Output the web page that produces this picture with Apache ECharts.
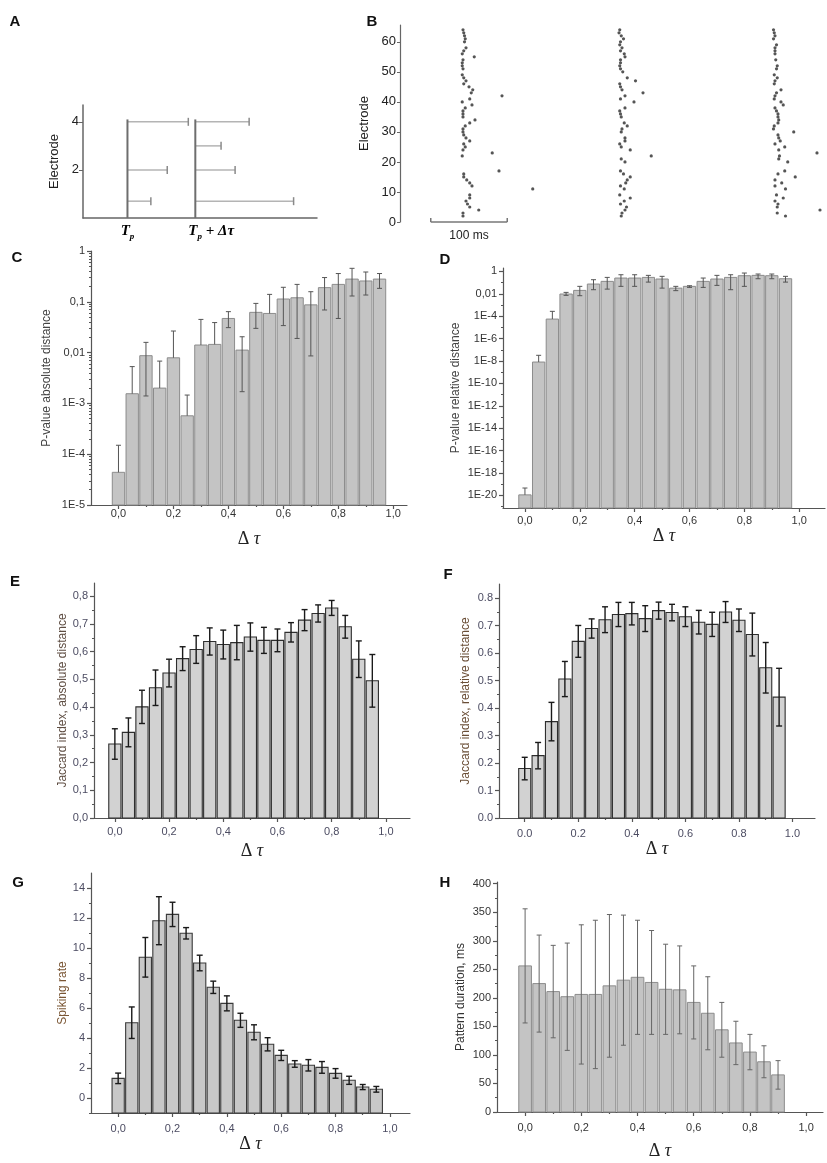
<!DOCTYPE html>
<html lang="en">
<head>
<meta charset="UTF-8">
<title>Patterns vs delta tau</title>
<script src="https://cdn.jsdelivr.net/npm/echarts@6/dist/echarts.min.js"></script>
<style>
  html, body { margin: 0; padding: 0; background: #fff; }
  #main { width: 827px; height: 1163px; }
</style>
</head>
<body>
<div id="main"></div>
<script type="text/javascript">
// ---- panel A: scheme ----
var aTp = 19, aTpShift = 48;
var aLeftRows = [4, 2, 0.7], aLeftEnds = [45, 36, 29];
var aRightRows = [4, 3, 2, 0.7], aRightEnds = [71, 59, 65, 90];
var aTickLabels = ['{t|T}{s|p}', '{t|T}{s|p}{t| + Δτ}'];

// ---- panel B: raster, [time ms, electrode] ----
var burst1 = [[84,64],[85,63],[86,62],[87,61],[86,60],[88,58],[85,57],[83,56],[99,55],[84,54],[83,53],[83,52],[84,51],[83,49],[85,48],[88,47],[85,46],[92,45],[97,44],[95,43],[136,42],[93,41],[83,40],[96,39],[87,38],[84,37],[84,36],[84,35],[100,34],[93,33],[87,32],[84,31],[84,30],[85,29],[88,28],[93,27],[85,26],[87,25],[84,24],[123,23],[83,22],[132,17],[85,16],[85,15],[89,14],[93,13],[96,12],[177,11],[93,9],[93,8],[88,7],[90,6],[93,5],[105,4],[84,3],[84,2]];
var burst2 = [[293,64],[292,63],[295,62],[298,61],[294,60],[293,59],[296,58],[294,57],[299,56],[300,55],[294,54],[294,53],[293,52],[294,51],[297,50],[303,48],[314,47],[293,46],[294,45],[296,44],[324,43],[300,42],[294,41],[312,40],[300,38],[293,37],[294,36],[295,35],[299,33],[303,32],[296,31],[295,30],[300,28],[300,27],[293,26],[295,25],[307,24],[335,22],[295,21],[300,20],[294,17],[298,16],[307,15],[303,14],[301,13],[294,12],[299,11],[293,9],[307,8],[299,7],[294,6],[302,5],[300,4],[296,3],[295,2]];
var burst3 = [[498,64],[499,63],[500,62],[498,61],[502,59],[500,58],[500,57],[500,56],[501,54],[503,52],[502,51],[499,49],[503,48],[500,47],[499,46],[508,44],[502,43],[500,42],[499,41],[508,40],[511,39],[500,38],[502,37],[504,36],[504,35],[505,34],[504,33],[499,32],[498,31],[525,30],[504,29],[505,28],[507,27],[500,26],[513,25],[505,24],[556,23],[506,22],[505,21],[517,20],[513,17],[504,16],[527,15],[500,14],[509,13],[500,12],[514,11],[502,9],[511,8],[500,7],[504,6],[503,5],[560,4],[503,3],[514,2]];
var scaleBar = [41, 143];
var electrodeTicks = [0, 10, 20, 30, 40, 50, 60];

// ---- bar panels ----
var dtau = [0.00,0.05,0.10,0.15,0.20,0.25,0.30,0.35,0.40,0.45,0.50,0.55,0.60,0.65,0.70,0.75,0.80,0.85,0.90,0.95];
var dtauH = dtau.slice(0, 19);

var pAbsMean = [4.4e-5,1.55e-3,8.7e-3,2.0e-3,7.9e-3,5.7e-4,0.0141,0.0145,0.047,0.0112,0.062,0.059,0.1135,0.12,0.087,0.19,0.22,0.28,0.257,0.28];
var pAbsHigh = [1.5e-4,5.3e-3,0.0159,6.8e-3,0.0266,1.46e-3,0.045,0.039,0.064,0.0205,0.093,0.14,0.193,0.22,0.158,0.30,0.36,0.456,0.386,0.36];
var pAbsLow  = [null,null,1.4e-3,null,null,null,null,null,0.031,1.7e-3,0.030,null,0.034,0.019,8.6e-3,0.069,0.047,0.13,0.136,0.184];

var pRelMean = [1.1e-20,8e-9,5.5e-5,9.5e-3,0.02,0.074,0.128,0.254,0.254,0.29,0.207,0.032,0.046,0.128,0.207,0.29,0.41,0.44,0.41,0.22];
var pRelHigh = [4.5e-20,3.2e-8,2.7e-4,0.0133,0.046,0.18,0.29,0.5,0.5,0.44,0.36,0.046,0.052,0.254,0.44,0.5,0.71,0.58,0.58,0.36];
var pRelLow  = [null,null,null,7.2e-3,6.7e-3,0.023,0.026,0.046,0.046,0.11,0.032,0.019,0.037,0.037,0.056,0.023,0.046,0.22,0.22,0.11];

var jacAbsMean = [0.267,0.309,0.401,0.470,0.523,0.575,0.608,0.637,0.626,0.633,0.653,0.641,0.641,0.670,0.714,0.738,0.758,0.690,0.573,0.495];
var jacAbsSd   = [0.055,0.052,0.060,0.064,0.050,0.043,0.050,0.049,0.052,0.062,0.051,0.047,0.041,0.035,0.038,0.031,0.027,0.041,0.066,0.095];

var jacRelMean = [0.180,0.227,0.351,0.506,0.643,0.690,0.722,0.741,0.744,0.726,0.755,0.748,0.733,0.713,0.705,0.750,0.720,0.668,0.547,0.440];
var jacRelSd   = [0.041,0.048,0.070,0.064,0.058,0.035,0.047,0.044,0.041,0.047,0.031,0.030,0.036,0.043,0.044,0.038,0.041,0.078,0.092,0.105];

var rateMean = [1.31,5.02,9.38,11.82,12.24,10.98,9.00,7.38,6.31,5.18,4.38,3.58,2.84,2.27,2.18,2.04,1.64,1.18,0.73,0.58];
var rateSd   = [0.35,1.05,1.32,1.60,0.81,0.38,0.52,0.41,0.50,0.47,0.50,0.44,0.34,0.22,0.38,0.39,0.32,0.27,0.17,0.19];

var durMean = [256,225,211,202,206,206,221,231,236,227,215,214,192,173,144,121,105,88,65];
var durSd   = [100,85,81,94,122,130,125,114,100,91,79,77,64,64,48,38,31,28,25];

// tick values
var xMajor = [0, 0.2, 0.4, 0.6, 0.8, 1.0];
var xMinor = [0.1, 0.3, 0.5, 0.7, 0.9];
var cMajor = [1e-5, 1e-4, 1e-3, 1e-2, 1e-1, 1];
var dMajor = [1e-20, 1e-18, 1e-16, 1e-14, 1e-12, 1e-10, 1e-8, 1e-6, 1e-4, 1e-2, 1];
var dMinor = [1e-21, 1e-19, 1e-17, 1e-15, 1e-13, 1e-11, 1e-9, 1e-7, 1e-5, 1e-3, 1e-1];
var jacMajor = [0, 0.1, 0.2, 0.3, 0.4, 0.5, 0.6, 0.7, 0.8];
var jacMinor = [0.05, 0.15, 0.25, 0.35, 0.45, 0.55, 0.65, 0.75];
var rateMajor = [0, 2, 4, 6, 8, 10, 12, 14];
var rateMinor = [-1, 1, 3, 5, 7, 9, 11, 13];
var durMajor = [0, 50, 100, 150, 200, 250, 300, 350, 400];
var durMinor = [25, 75, 125, 175, 225, 275, 325, 375];

var cMinor = [];
for (var k = -5; k < 0; k++) {
    for (var m = 2; m <= 9; m++) cMinor.push(m * Math.pow(10, k));
}

var sans = "'Liberation Sans', Arial, sans-serif";
var serif = "'Liberation Serif', 'Times New Roman', serif";

function commaFmt(v) { return v.toFixed(1).replace('.', ','); }
function dotFmt(v) { return v.toFixed(1); }
function intFmt(v) { return String(Math.round(v)); }
function logFmt(v) {
    var e = Math.round(Math.log(v) / Math.LN10);
    if (e === 0) return '1';
    if (e >= -2) return v.toFixed(-e).replace('.', ',');
    return '1E' + e;
}

function zipSd(xs, mean, sd) {
    return xs.map(function (x, i) { return [x, mean[i], mean[i] - sd[i], mean[i] + sd[i]]; });
}
function zipLoHi(xs, mean, lo, hi) {
    return xs.map(function (x, i) { return [x, mean[i], lo[i] == null ? '-' : lo[i], hi[i]]; });
}

var grids = [], xAxes = [], yAxes = [], series = [];

var tauRich = {
    d: { fontFamily: serif, fontSize: 18, color: '#222' },
    t: { fontFamily: serif, fontSize: 18, fontStyle: 'italic', color: '#222' }
};

function barRenderer(p) {
    var half = 0.0225, cap = p.cap;
    return function (params, api) {
        var x = api.value(0), v = api.value(1), lo = api.value(2), hi = api.value(3);
        var tl = api.coord([x - half, v]);
        var br = api.coord([x + half, p.yMin]);
        var top = api.coord([x, v]);
        var pHi = api.coord([x, hi]);
        var hasLo = lo != null && !isNaN(lo);
        var pLo = hasLo ? api.coord([x, lo]) : top;
        var es = { stroke: p.errColor, lineWidth: p.errWidth };
        var kids = [
            { type: 'rect', shape: { x: tl[0], y: tl[1], width: br[0] - tl[0], height: br[1] - tl[1] },
              style: { fill: p.fill, stroke: p.stroke, lineWidth: p.strokeWidth } },
            { type: 'line', shape: { x1: pHi[0], y1: pHi[1], x2: pLo[0], y2: pLo[1] }, style: es },
            { type: 'line', shape: { x1: pHi[0] - cap, y1: pHi[1], x2: pHi[0] + cap, y2: pHi[1] }, style: es }
        ];
        if (hasLo) {
            kids.push({ type: 'line', shape: { x1: pLo[0] - cap, y1: pLo[1], x2: pLo[0] + cap, y2: pLo[1] }, style: es });
        }
        return { type: 'group', children: kids };
    };
}

function addPanel(p) {
    var gi = grids.length;
    grids.push({ left: p.box[0], top: p.box[1], width: p.box[2], height: p.box[3] });
    var line = { color: p.axisColor, width: 1.2 };
    var xi = xAxes.length, yi = yAxes.length;
    xAxes.push({
        gridIndex: gi, type: 'value', position: 'bottom', min: p.xMin, max: p.xMax,
        axisLine: { onZero: false, lineStyle: line },
        axisTick: { customValues: xMajor, length: 4, lineStyle: line },
        axisLabel: { customValues: xMajor, margin: p.xMargin, formatter: p.xFmt,
                     fontFamily: sans, fontSize: 11, color: p.labelColor },
        splitLine: { show: false },
        name: '{d|Δ }{t|τ}', nameLocation: 'middle', nameGap: p.xGap,
        nameTextStyle: { rich: tauRich }
    });
    // minor ticks only
    xAxes.push({
        gridIndex: gi, type: 'value', position: 'bottom', min: p.xMin, max: p.xMax,
        axisLine: { show: false, onZero: false },
        axisTick: { customValues: xMinor, length: 2, lineStyle: line },
        axisLabel: { show: false }, splitLine: { show: false }
    });
    yAxes.push({
        gridIndex: gi, type: p.yType, position: 'left', min: p.yMin, max: p.yMax,
        axisLine: { show: true, onZero: false, lineStyle: line },
        axisTick: { show: true, customValues: p.yMajor, length: 4, lineStyle: line },
        axisLabel: { customValues: p.yMajor, margin: 6, formatter: p.yFmt,
                     fontFamily: sans, fontSize: 11, color: p.labelColor },
        splitLine: { show: false },
        name: p.yName, nameLocation: 'middle', nameGap: p.yGap,
        nameTextStyle: { fontFamily: sans, fontSize: 12, color: p.nameColor }
    });
    yAxes.push({
        gridIndex: gi, type: p.yType, position: 'left', min: p.yMin, max: p.yMax,
        axisLine: { show: false, onZero: false },
        axisTick: { show: true, customValues: p.yMinor, length: 2, lineStyle: line },
        axisLabel: { show: false }, splitLine: { show: false }
    });
    series.push({
        type: 'custom', xAxisIndex: xi, yAxisIndex: yi,
        data: p.data, renderItem: barRenderer(p), animation: false, silent: true
    });
}

// ---- panel A ----
grids.push({ left: 83, top: 105, width: 234, height: 113 });
xAxes.push({
    gridIndex: 0, type: 'value', min: 0, max: 100,
    axisLine: { onZero: false, lineStyle: { color: '#666', width: 1.5 } },
    axisTick: { show: false }, axisLabel: { show: false }, splitLine: { show: false }
});
yAxes.push({
    gridIndex: 0, type: 'value', min: 0, max: 4.7,
    axisLine: { show: true, onZero: false, lineStyle: { color: '#666', width: 1.5 } },
    axisTick: { customValues: [2, 4], length: 4, lineStyle: { color: '#666' } },
    axisLabel: { customValues: [2, 4], margin: 4, fontFamily: sans, fontSize: 13, color: '#222' },
    splitLine: { show: false },
    name: 'Electrode', nameLocation: 'middle', nameGap: 22,
    nameTextStyle: { fontFamily: sans, fontSize: 13, color: '#222' }
});
var aRich = {
    t: { fontFamily: serif, fontStyle: 'italic', fontWeight: 'bold', fontSize: 15, color: '#222', lineHeight: 20 },
    s: { fontFamily: serif, fontStyle: 'italic', fontWeight: 'bold', fontSize: 9, color: '#222', lineHeight: 9, verticalAlign: 'bottom' }
};
function aRowRenderer(params, api) {
    var s = api.coord([api.value(0), api.value(2)]);
    var e = api.coord([api.value(1), api.value(2)]);
    return { type: 'group', children: [
        { type: 'line', shape: { x1: s[0], y1: s[1], x2: e[0], y2: e[1] }, style: { stroke: '#b4b4b4', lineWidth: 1.5 } },
        { type: 'line', shape: { x1: e[0], y1: e[1] - 4, x2: e[0], y2: e[1] + 4 }, style: { stroke: '#8a8a8a', lineWidth: 1.5 } }
    ] };
}
series.push({
    type: 'custom', xAxisIndex: 0, yAxisIndex: 0, animation: false, silent: true,
    data: aLeftRows.map(function (r, i) { return [aTp, aLeftEnds[i], r]; })
        .concat(aRightRows.map(function (r, i) { return [aTpShift, aRightEnds[i], r]; })),
    renderItem: aRowRenderer
});
series.push({
    type: 'custom', xAxisIndex: 0, yAxisIndex: 0, animation: false, silent: true,
    data: [[aTp], [aTpShift]],
    renderItem: function (params, api) {
        var x = api.value(0), i = params.dataIndex;
        var p0 = api.coord([x, 0]), p1 = api.coord([x, 4.1]);
        return { type: 'group', children: [
            { type: 'line', shape: { x1: p0[0], y1: p0[1], x2: p1[0], y2: p1[1] }, style: { stroke: '#6e6e6e', lineWidth: 2 } },
            { type: 'text', style: { text: aTickLabels[i], rich: aRich, x: p0[0] + (i ? -7 : 0), y: p0[1] + 3,
                                     align: i ? 'left' : 'center', verticalAlign: 'top' } }
        ] };
    }
});

// ---- panel B ----
grids.push({ left: 400, top: 25, width: 420, height: 197 });
xAxes.push({ gridIndex: 1, type: 'value', min: 0, max: 560, show: false });
yAxes.push({
    gridIndex: 1, type: 'value', min: 0, max: 65.6,
    axisLine: { show: true, onZero: false, lineStyle: { color: '#666', width: 1.2 } },
    axisTick: { customValues: electrodeTicks, length: 3, lineStyle: { color: '#666' } },
    axisLabel: { customValues: electrodeTicks, margin: 4, fontFamily: sans, fontSize: 13, color: '#222' },
    splitLine: { show: false },
    name: 'Electrode', nameLocation: 'middle', nameGap: 25,
    nameTextStyle: { fontFamily: sans, fontSize: 13, color: '#222' }
});
[burst1, burst2, burst3].forEach(function (b) {
    series.push({
        type: 'scatter', xAxisIndex: 1, yAxisIndex: 1, data: b, symbolSize: 3.2,
        itemStyle: { color: '#2a2a2a' }, animation: false, silent: true
    });
});
series.push({
    type: 'custom', xAxisIndex: 1, yAxisIndex: 1, animation: false, silent: true,
    data: [scaleBar],
    renderItem: function (params, api) {
        var a = api.coord([api.value(0), 0]), b = api.coord([api.value(1), 0]);
        var st = { stroke: '#777', lineWidth: 1.5 };
        return { type: 'group', children: [
            { type: 'line', shape: { x1: a[0], y1: a[1], x2: b[0], y2: b[1] }, style: st },
            { type: 'line', shape: { x1: a[0], y1: a[1], x2: a[0], y2: a[1] - 4 }, style: st },
            { type: 'line', shape: { x1: b[0], y1: b[1], x2: b[0], y2: b[1] - 4 }, style: st },
            { type: 'text', style: { text: '100 ms', x: (a[0] + b[0]) / 2, y: a[1] + 8, align: 'center', verticalAlign: 'top',
                                     fontFamily: sans, fontSize: 12, fill: '#222' } }
        ] };
    }
});

// ---- panels C..H ----
var grayStyle = { fill: '#c4c4c4', stroke: '#8c8c8c', strokeWidth: 1, errColor: '#555', errWidth: 1, cap: 2.5 };
var darkStyle = { fill: '#d2d2d2', stroke: '#2e2e2e', strokeWidth: 1.1, errColor: '#1a1a1a', errWidth: 1.4, cap: 3 };

function merge(a, b) { var o = {}; for (var k in a) o[k] = a[k]; for (var j in b) o[j] = b[j]; return o; }

addPanel(merge(grayStyle, {
    box: [91, 251, 316, 254], xMin: -0.1, xMax: 1.05, xFmt: commaFmt, xMargin: 3, xGap: 25,
    yType: 'log', yMin: 1e-5, yMax: 1, yMajor: cMajor, yMinor: cMinor, yFmt: logFmt,
    yName: 'P-value absolute distance', yGap: 38,
    axisColor: '#555', labelColor: '#333', nameColor: '#444',
    data: zipLoHi(dtau, pAbsMean, pAbsLow, pAbsHigh)
}));
addPanel(merge(grayStyle, {
    box: [503, 268, 322, 240], xMin: -0.08, xMax: 1.094, xFmt: commaFmt, xMargin: 7, xGap: 19,
    yType: 'log', yMin: 7.4e-22, yMax: 2, yMajor: dMajor, yMinor: dMinor, yFmt: logFmt,
    yName: 'P-value relative distance', yGap: 41,
    axisColor: '#555', labelColor: '#333', nameColor: '#444',
    data: zipLoHi(dtau, pRelMean, pRelLow, pRelHigh)
}));
addPanel(merge(darkStyle, {
    box: [94, 583, 316, 235], xMin: -0.077, xMax: 1.089, xFmt: commaFmt, xMargin: 8, xGap: 24,
    yType: 'value', yMin: 0, yMax: 0.848, yMajor: jacMajor, yMinor: jacMinor, yFmt: commaFmt,
    yName: 'Jaccard index, absolute distance', yGap: 25,
    axisColor: '#555', labelColor: '#4c4c62', nameColor: '#5e4d42',
    data: zipSd(dtau, jacAbsMean, jacAbsSd)
}));
addPanel(merge(darkStyle, {
    box: [499, 584, 316, 234], xMin: -0.096, xMax: 1.084, xFmt: dotFmt, xMargin: 10, xGap: 18,
    yType: 'value', yMin: 0, yMax: 0.852, yMajor: jacMajor, yMinor: jacMinor, yFmt: dotFmt,
    yName: 'Jaccard index, relative distance', yGap: 27,
    axisColor: '#555', labelColor: '#4c4c62', nameColor: '#6a4e36',
    data: zipSd(dtau, jacRelMean, jacRelSd)
}));
addPanel(merge(darkStyle, {
    box: [91, 873, 319, 240], xMin: -0.1, xMax: 1.074, xFmt: commaFmt, xMargin: 10, xGap: 20,
    yType: 'value', yMin: -1, yMax: 15, yMajor: rateMajor, yMinor: rateMinor, yFmt: intFmt,
    yName: 'Spiking rate', yGap: 22,
    axisColor: '#555', labelColor: '#4c4c62', nameColor: '#7a5634',
    fill: '#c8c8c8', stroke: '#3a3a3a',
    data: zipSd(dtau, rateMean, rateSd)
}));
addPanel(merge(grayStyle, {
    box: [497, 882, 326, 230], xMin: -0.1, xMax: 1.06, xFmt: commaFmt, xMargin: 10, xGap: 30,
    yType: 'value', yMin: 0, yMax: 403, yMajor: durMajor, yMinor: durMinor, yFmt: intFmt,
    yName: 'Pattern duration, ms', yGap: 30,
    axisColor: '#555', labelColor: '#333', nameColor: '#333', errColor: '#666',
    data: zipSd(dtauH, durMean, durSd)
}));

// panel letters
var letters = [['A', 15, 22], ['B', 372, 22], ['C', 17, 258], ['D', 445, 260],
               ['E', 15, 582], ['F', 448, 575], ['G', 18, 883], ['H', 445, 883]];

var myChart = echarts.init(document.getElementById('main'), null, { renderer: 'canvas' });
myChart.setOption({
    backgroundColor: '#fff',
    animation: false,
    grid: grids,
    xAxis: xAxes,
    yAxis: yAxes,
    series: series,
    graphic: letters.map(function (l) {
        return { type: 'text', x: l[1], y: l[2],
                 style: { text: l[0], align: 'center', verticalAlign: 'middle',
                          font: 'bold 15px ' + sans, fill: '#111' } };
    })
});
</script>
</body>
</html>
